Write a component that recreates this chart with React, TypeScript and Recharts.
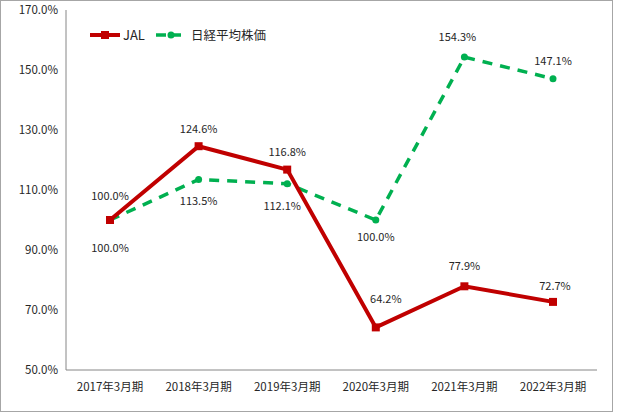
import { LineChart, Line, XAxis, YAxis, LabelList } from 'recharts'

const categories = ['2017年3月期', '2018年3月期', '2019年3月期', '2020年3月期', '2021年3月期', '2022年3月期']
const jalValues = [100.0, 124.6, 116.8, 64.2, 77.9, 72.7]
const nikkeiValues = [100.0, 113.5, 112.1, 100.0, 154.3, 147.1]
const yTicks = [50, 70, 90, 110, 130, 150, 170]

// label placement (px) relative to each point; negative dy = above
const jalLabelDx = [0, 0, 0, 10, 0, 2]
const jalLabelDy = [-25, -18, -19, -29, -21, -17]
const nikkeiLabelDx = [0, 0, -5, 0, -7, 0]
const nikkeiLabelDy = [27, 20, 21, 16, -21, -19]

const JAL_RED = '#C00000'
const NIKKEI_GREEN = '#00B050'
const FONT = '"Noto Sans CJK JP", "Noto Sans", sans-serif'

const data = categories.map((name, i) => ({
  name,
  jal: jalValues[i],
  nikkei: nikkeiValues[i],
}))

const pct = (v: number) => `${v.toFixed(1)}%`

function makeLabel(dxs: number[], dys: number[]) {
  return (props: any) => {
    const { x, y, value, index } = props
    return (
      <text
        x={x + dxs[index]}
        y={y + dys[index]}
        textAnchor="middle"
        dominantBaseline="central"
        fontSize={11}
        fontFamily={FONT}
        fill="#262626"
      >
        {pct(Number(value))}
      </text>
    )
  }
}

const SquareDot = (props: any) => {
  const { cx, cy } = props
  return <rect x={cx - 4} y={cy - 4} width={8} height={8} fill={JAL_RED} />
}

const CircleDot = (props: any) => {
  const { cx, cy } = props
  return <circle cx={cx} cy={cy} r={3.5} fill={NIKKEI_GREEN} />
}

function ChartLegend() {
  return (
    <div
      style={{
        position: 'absolute',
        left: 90,
        top: 25,
        display: 'flex',
        alignItems: 'center',
        fontFamily: FONT,
        color: '#262626',
      }}
    >
      <svg width={33} height={12}>
        <line x1={0} y1={6} x2={30} y2={6} stroke={JAL_RED} strokeWidth={4} />
        <rect x={11} y={2} width={8} height={8} fill={JAL_RED} />
      </svg>
      <span style={{ fontSize: 13, marginRight: 11 }}>JAL</span>
      <svg width={35} height={12}>
        <line x1={0} y1={6} x2={30} y2={6} stroke={NIKKEI_GREEN} strokeWidth={3.5} strokeDasharray="10 5" />
        <circle cx={15} cy={6} r={3.5} fill={NIKKEI_GREEN} />
      </svg>
      <span style={{ fontSize: 12.5 }}>日経平均株価</span>
    </div>
  )
}

export default function App() {
  return (
    <div style={{ position: 'absolute', left: 0, top: 0, width: 617, height: 419, background: '#fff' }}>
      <LineChart width={617} height={419} data={data} margin={{ top: 10, right: 20, bottom: 19, left: 10 }}>
        <XAxis
          dataKey="name"
          padding={{ left: 44, right: 44 }}
          tickLine={false}
          tickSize={0}
          tickMargin={13}
          height={30}
          stroke="#868686"
          interval={0}
          tick={{ fontSize: 11.5, fill: '#262626', fontFamily: FONT }}
        />
        <YAxis
          domain={[50, 170]}
          ticks={yTicks}
          tickFormatter={pct}
          tickLine={false}
          tickSize={0}
          tickMargin={8}
          width={56}
          stroke="#868686"
          tick={{ fontSize: 11.5, fill: '#262626', fontFamily: FONT }}
          interval={0}
        />
        <Line
          type="linear"
          dataKey="nikkei"
          stroke={NIKKEI_GREEN}
          strokeWidth={3.5}
          strokeDasharray="10 8"
          dot={<CircleDot />}
          activeDot={false}
          isAnimationActive={false}
        >
          <LabelList dataKey="nikkei" content={makeLabel(nikkeiLabelDx, nikkeiLabelDy)} />
        </Line>
        <Line
          type="linear"
          dataKey="jal"
          stroke={JAL_RED}
          strokeWidth={4}
          dot={<SquareDot />}
          activeDot={false}
          isAnimationActive={false}
        >
          <LabelList dataKey="jal" content={makeLabel(jalLabelDx, jalLabelDy)} />
        </Line>
      </LineChart>
      <ChartLegend />
      <div
        style={{
          position: 'absolute',
          left: 0,
          top: 0,
          width: 613,
          height: 412,
          border: '1px solid #A6A6A6',
          boxSizing: 'border-box',
          pointerEvents: 'none',
        }}
      />
    </div>
  )
}
